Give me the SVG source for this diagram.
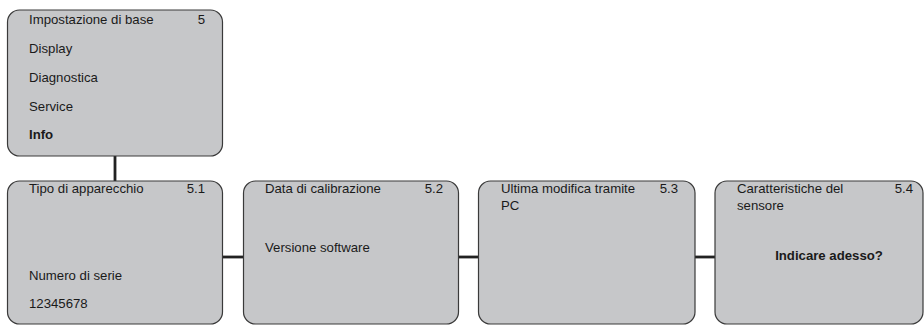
<svg xmlns="http://www.w3.org/2000/svg" width="924" height="326" viewBox="0 0 924 326">
<style>
.box{fill:#c6c7c9;stroke:#3a3a3a;stroke-width:1.2}
.t{font-family:"Liberation Sans",Arial,sans-serif;font-size:13.2px;fill:#1a1a1a}
.b{font-weight:bold}
.r{text-anchor:end}
.m{text-anchor:middle}
.c{stroke:#222;stroke-width:2.8;fill:none}
</style>
<rect width="924" height="326" fill="#ffffff"/>
<g id="connectors">
<line class="c" x1="115" y1="156" x2="115" y2="181"/>
<line class="c" x1="222.5" y1="257" x2="243.5" y2="257"/>
<line class="c" x1="458" y1="257" x2="478.5" y2="257"/>
<line class="c" x1="695" y1="257" x2="715" y2="257"/>
</g>
<g id="n5">
<rect class="box" x="7.5" y="10" width="215" height="146" rx="12"/>
<text class="t" x="29" y="24">Impostazione di base</text>
<text class="t r" x="205" y="24">5</text>
<text class="t" x="29" y="53">Display</text>
<text class="t" x="29" y="82">Diagnostica</text>
<text class="t" x="29" y="111">Service</text>
<text class="t b" x="29" y="139">Info</text>
</g>
<g id="n51">
<rect class="box" x="7.5" y="181" width="215" height="143" rx="12"/>
<text class="t" x="29" y="193">Tipo di apparecchio</text>
<text class="t r" x="205" y="193">5.1</text>
<text class="t" x="29" y="280">Numero di serie</text>
<text class="t" x="29" y="308">12345678</text>
</g>
<g id="n52">
<rect class="box" x="243.5" y="181" width="215" height="143" rx="12"/>
<text class="t" x="265" y="193">Data di calibrazione</text>
<text class="t r" x="443" y="193">5.2</text>
<text class="t" x="265" y="252">Versione software</text>
</g>
<g id="n53">
<rect class="box" x="478.5" y="181" width="216.5" height="143" rx="12"/>
<text class="t" x="501" y="193">Ultima modifica tramite</text>
<text class="t r" x="678" y="193">5.3</text>
<text class="t" x="501" y="210">PC</text>
</g>
<g id="n54">
<rect class="box" x="715" y="181" width="208" height="143" rx="12"/>
<text class="t" x="737" y="193">Caratteristiche del</text>
<text class="t r" x="913" y="193">5.4</text>
<text class="t" x="737" y="210">sensore</text>
<text class="t b m" x="829" y="260">Indicare adesso?</text>
</g>
</svg>
